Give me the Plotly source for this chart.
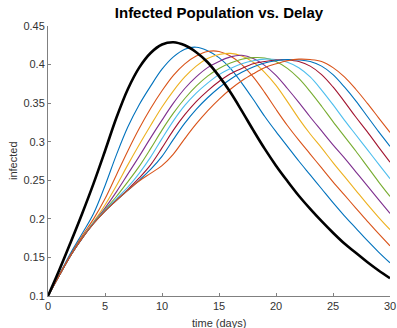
import plotly.graph_objects as go

days = list(range(31))

no_delay = [0.100,0.134,0.170,0.207,0.246,0.288,0.331,0.368,0.396,0.415,0.426,0.429,0.425,0.416,0.403,0.385,
            0.364,0.340,0.315,0.291,0.269,0.249,0.230,0.213,0.197,0.182,0.168,0.156,0.144,0.133,0.123]

delay1 = [0.100,0.128,0.156,0.181,0.207,0.243,0.283,0.319,0.348,0.372,0.394,0.410,0.420,0.4225,0.418,0.409,
          0.395,0.376,0.355,0.333,0.313,0.294,0.275,0.257,0.239,0.221,0.204,0.188,0.172,0.157,0.143]
delay2 = [0.100,0.127,0.154,0.178,0.200,0.226,0.257,0.288,0.317,0.343,0.366,0.386,0.401,0.411,0.417,0.417,
          0.411,0.400,0.384,0.364,0.342,0.321,0.302,0.284,0.266,0.248,0.231,0.214,0.197,0.181,0.165]
delay3 = [0.100,0.127,0.153,0.176,0.196,0.218,0.243,0.270,0.296,0.321,0.345,0.366,0.384,0.398,0.408,0.413,
          0.4145,0.411,0.403,0.390,0.373,0.352,0.330,0.310,0.292,0.273,0.255,0.237,0.219,0.202,0.186]
delay4 = [0.100,0.127,0.153,0.175,0.195,0.214,0.235,0.258,0.281,0.305,0.328,0.350,0.369,0.384,0.396,0.404,
          0.410,0.412,0.408,0.399,0.386,0.369,0.351,0.332,0.314,0.296,0.279,0.261,0.243,0.225,0.207]
delay5 = [0.100,0.127,0.153,0.175,0.195,0.212,0.229,0.248,0.268,0.291,0.315,0.337,0.356,0.372,0.385,0.395,
          0.402,0.407,0.409,0.4085,0.404,0.395,0.382,0.365,0.346,0.326,0.307,0.288,0.268,0.248,0.229]
delay6 = [0.100,0.127,0.153,0.175,0.195,0.211,0.226,0.241,0.259,0.280,0.304,0.327,0.347,0.363,0.376,0.387,
          0.395,0.401,0.405,0.407,0.4065,0.403,0.396,0.384,0.367,0.348,0.328,0.309,0.290,0.271,0.252]
delay7 = [0.100,0.127,0.153,0.175,0.194,0.210,0.224,0.238,0.253,0.270,0.292,0.315,0.335,0.352,0.366,0.378,
          0.388,0.395,0.401,0.404,0.406,0.406,0.404,0.398,0.387,0.371,0.352,0.332,0.313,0.293,0.2734]
delay8 = [0.100,0.127,0.153,0.175,0.194,0.210,0.224,0.237,0.250,0.264,0.281,0.303,0.324,0.342,0.357,0.370,
          0.381,0.390,0.397,0.402,0.405,0.4065,0.406,0.404,0.398,0.387,0.371,0.353,0.333,0.313,0.294]
delay9 = [0.100,0.127,0.153,0.175,0.194,0.210,0.224,0.237,0.249,0.259,0.269,0.284,0.304,0.323,0.340,0.355,
          0.368,0.379,0.388,0.396,0.401,0.405,0.407,0.4065,0.404,0.396,0.384,0.368,0.350,0.331,0.312]

delay_series = [delay1, delay2, delay3, delay4, delay5, delay6, delay7, delay8, delay9]
colors = ["#0072BD", "#D95319", "#EDB120", "#7E2F8E", "#77AC30", "#4DBEEE", "#A2142F", "#0072BD", "#D95319"]

x_ticks = [0, 5, 10, 15, 20, 25, 30]
y_ticks = [0.1, 0.15, 0.2, 0.25, 0.3, 0.35, 0.4, 0.45]
y_tick_text = ["0.1", "0.15", "0.2", "0.25", "0.3", "0.35", "0.4", "0.45"]

fig = go.Figure()
for vals, c in zip(delay_series, colors):
    fig.add_trace(go.Scatter(x=days, y=vals, mode="lines",
                             line=dict(color=c, width=1.1, shape="spline", smoothing=1.0),
                             showlegend=False, hoverinfo="skip"))
fig.add_trace(go.Scatter(x=days, y=no_delay, mode="lines",
                         line=dict(color="black", width=2.6, shape="spline", smoothing=1.0),
                         showlegend=False, hoverinfo="skip"))

font = "Liberation Sans, Arial, Helvetica, sans-serif"
axis_common = dict(showgrid=False, zeroline=False, showline=True, linecolor="#808080", linewidth=1,
                   ticks="inside", ticklen=3, tickcolor="#808080", tickwidth=1, automargin=False,
                   tickfont=dict(family=font, size=11, color="#333333"))

fig.update_layout(
    width=397, height=328, autosize=False,
    margin=dict(l=48, r=7, t=26, b=32, pad=0),
    paper_bgcolor="white", plot_bgcolor="white",
    title=dict(text="<b>Infected Population vs. Delay</b>", x=0.5, xref="paper",
               y=1 - 12.5 / 328, yref="container", yanchor="middle", xanchor="center",
               font=dict(family=font, size=15, color="black")),
    xaxis=dict(range=[0, 30], tickvals=x_ticks, ticktext=[str(v) for v in x_ticks],
               ticklabeloverflow="allow", **axis_common),
    yaxis=dict(range=[0.1, 0.45], tickvals=y_ticks, ticktext=y_tick_text, **axis_common),
    annotations=[
        dict(text="time (days)", x=0.5, y=0, xref="paper", yref="paper", xanchor="center", yanchor="top",
             yshift=-19, showarrow=False, font=dict(family=font, size=11, color="#333333")),
        dict(text="infected", x=0, y=0.5, xref="paper", yref="paper", xanchor="center", yanchor="middle",
             xshift=-35, textangle=-90, showarrow=False, font=dict(family=font, size=11, color="#333333")),
    ],
)

fig.write_html("out.html")
